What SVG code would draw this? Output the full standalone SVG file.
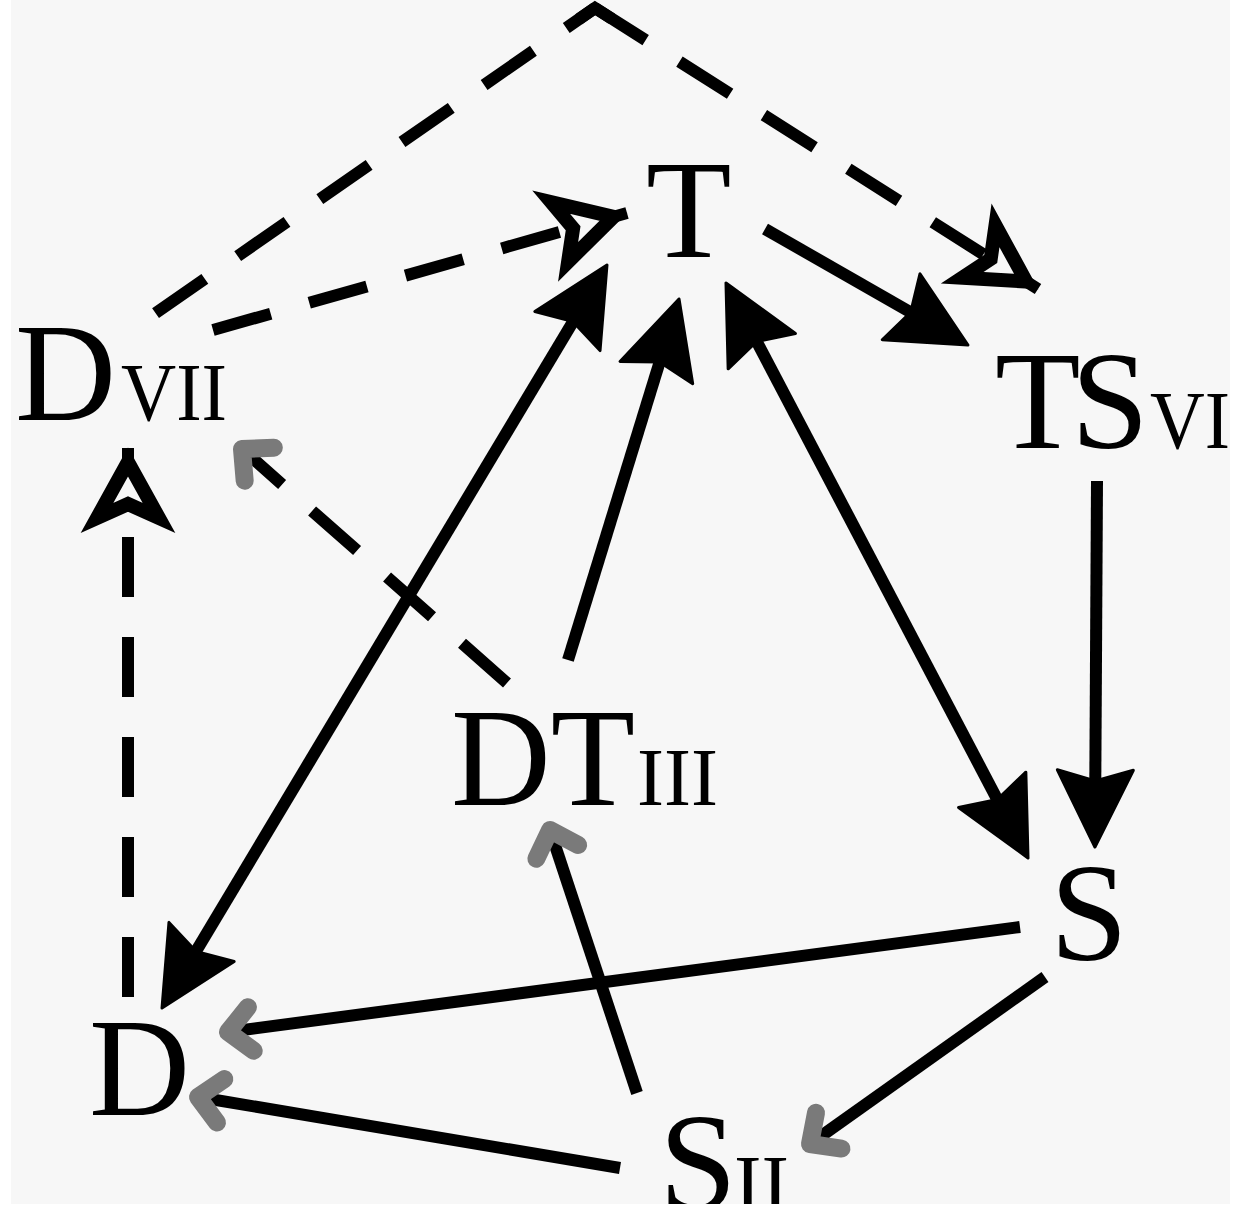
<svg xmlns="http://www.w3.org/2000/svg" width="1236" height="1224" viewBox="0 0 1236 1224">
  <style>
    .edge { stroke: #000; stroke-width: 12; fill: none; stroke-linecap: butt; }
    .dash { stroke-dasharray: 60 40; }
    .openhead { fill: #f7f7f7; stroke: #000; stroke-width: 14; stroke-linejoin: miter; stroke-miterlimit: 10; }
    .lbl { font-family: "Liberation Serif", "Times New Roman", serif; fill: #000; }
    .big { font-size: 140px; }
    .sc { font-size: 83px; }
  </style>
  <defs>
    <path id="openHead" d="M-14,0 L-70,-31 L-56,0 L-70,31 Z"/>
    <marker id="fill" markerUnits="userSpaceOnUse" orient="auto" overflow="visible" refX="-14" refY="0" markerWidth="10" markerHeight="10">
      <path d="M0,0 L-77,-38 L-66,0 L-77,38 Z" fill="#000" stroke="#000" stroke-width="3" stroke-linejoin="round"/>
    </marker>
    <marker id="fill2" markerUnits="userSpaceOnUse" orient="auto-start-reverse" overflow="visible" refX="-14" refY="0" markerWidth="10" markerHeight="10">
      <path d="M0,0 L-77,-38 L-66,0 L-77,38 Z" fill="#000" stroke="#000" stroke-width="3" stroke-linejoin="round"/>
    </marker>
    <marker id="chev" markerUnits="userSpaceOnUse" orient="auto" overflow="visible" refX="0" refY="0" markerWidth="10" markerHeight="10">
      <path d="M-23,-22 L0,0 L-23,22" fill="none" stroke="#7a7a7a" stroke-width="18" stroke-linecap="round" stroke-linejoin="round"/>
    </marker>
  </defs>

  <rect x="0" y="0" width="1236" height="1224" fill="#ffffff"/>
  <rect x="11" y="0" width="1219" height="1204" fill="#f7f7f7"/>

  <g id="connectors">
    <!-- Dvii -> apex -> TSvi (dashed, open arrow) -->
    <path class="edge dash" d="M595,8 L150,317" stroke-dashoffset="25"/>
    <path class="edge" d="M578.7,19.3 L595,8 L611.8,18.7" stroke-linejoin="miter"/>
    <path class="edge dash" d="M595,8 L1038,289"/>
    <use href="#openHead" class="openhead" transform="translate(1038,289) rotate(32.4)"/>
    <!-- Dvii -> T dashed -->
    <path class="edge dash" d="M213,330 L627,213"/>
    <use href="#openHead" class="openhead" transform="translate(627,213) rotate(-15.8)"/>
    <!-- D -> Dvii dashed vertical -->
    <path class="edge dash" d="M128,997 L128,448"/>
    <use href="#openHead" class="openhead" transform="translate(128,448) rotate(-90)"/>
    <!-- DTiii -> Dvii dashed, gray chevron -->
    <path class="edge dash" d="M507,683 L242,449" marker-end="url(#chev)"/>
    <!-- T -> TSvi -->
    <path class="edge" d="M765,229 L955.8,338.1" marker-end="url(#fill)"/>
    <!-- TSvi -> S -->
    <path class="edge" d="M1097,481 L1095,833" marker-end="url(#fill)"/>
    <!-- T <-> S -->
    <path class="edge" d="M732.5,295.4 L1021.5,845.6" marker-start="url(#fill2)" marker-end="url(#fill2)"/>
    <!-- T <-> D -->
    <path class="edge" d="M599.8,277 L169.2,996" marker-start="url(#fill2)" marker-end="url(#fill2)"/>
    <!-- DTiii -> T -->
    <path class="edge" d="M568,660 L674.9,312.4" marker-end="url(#fill)"/>
    <!-- S -> D -->
    <path class="edge" d="M1020,927 L228,1032" marker-end="url(#chev)"/>
    <!-- Sii -> D -->
    <path class="edge" d="M620,1168 L198,1097" marker-end="url(#chev)"/>
    <!-- Sii -> DTiii -->
    <path class="edge" d="M637,1093 L550,830" marker-end="url(#chev)"/>
    <!-- S -> Sii -->
    <path class="edge" d="M1045,977 L810,1144" marker-end="url(#chev)"/>
  </g>

  <g id="node-T">
    <text class="lbl big" x="646" y="257">T</text>
  </g>
  <g id="node-Dvii">
    <text class="lbl big" x="15" y="420">D</text>
    <text class="lbl sc" x="121" y="420" textLength="106" lengthAdjust="spacingAndGlyphs">VII</text>
  </g>
  <g id="node-TSvi">
    <text class="lbl big" x="995" y="448" letter-spacing="-9.5">TS</text>
    <text class="lbl sc" x="1150" y="448" textLength="80" lengthAdjust="spacingAndGlyphs">VI</text>
  </g>
  <g id="node-DTiii">
    <text class="lbl big" x="451" y="805" textLength="184" lengthAdjust="spacingAndGlyphs">DT</text>
    <text class="lbl sc" x="637" y="805" textLength="81" lengthAdjust="spacingAndGlyphs">III</text>
  </g>
  <g id="node-S">
    <text class="lbl big" x="1050" y="960">S</text>
  </g>
  <g id="node-D">
    <text class="lbl big" x="89" y="1115">D</text>
  </g>
  <g id="node-Sii">
    <text class="lbl big" x="659" y="1210">S</text>
    <text class="lbl sc" x="734" y="1212" textLength="55" lengthAdjust="spacingAndGlyphs">II</text>
  </g>

  <rect x="0" y="1204" width="1236" height="20" fill="#ffffff"/>
  <rect x="0" y="0" width="11" height="1224" fill="#ffffff"/>
  <rect x="1230" y="0" width="6" height="1224" fill="#ffffff"/>
</svg>
